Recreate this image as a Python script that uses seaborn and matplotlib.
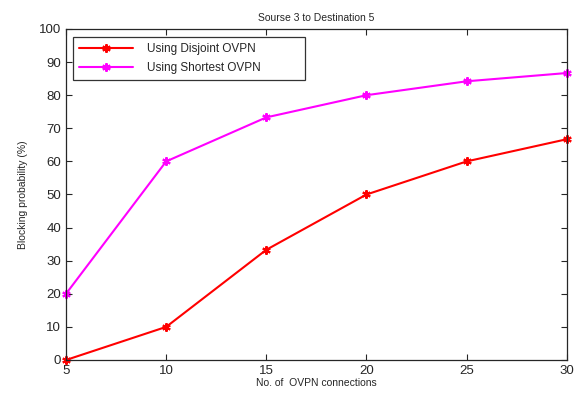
import seaborn as sns
import matplotlib.pyplot as plt
import pandas as pd

connections = [5, 10, 15, 20, 25, 30]
disjoint = [0, 10, 33.3, 50, 60, 66.7]
shortest = [20, 60, 73.3, 80, 84.2, 86.7]

df = pd.DataFrame({
    'x': connections * 2,
    'y': disjoint + shortest,
    'serie': ['Using Disjoint OVPN'] * 6 + ['Using Shortest OVPN'] * 6,
})

sns.set_style('ticks')
plt.rcParams['font.family'] = ['Liberation Sans', 'DejaVu Sans']

fig = plt.figure(figsize=(5.76, 3.94), dpi=100)
ax = fig.add_axes([0.1146, 0.0863, 0.8694, 0.8401])
sns.lineplot(data=df, x='x', y='y', hue='serie',
             palette={'Using Disjoint OVPN': '#ff0000', 'Using Shortest OVPN': '#ff00ff'},
             marker=(6, 2, 0), markersize=6, linewidth=1.5, ax=ax)

# marcadores com a mesma cor da linha
for ln in ax.lines:
    ln.set_markeredgecolor(ln.get_color())
    ln.set_markeredgewidth(1.5)
    ln.set_clip_on(False)

ax.set_xlim(5, 30)
ax.set_ylim(0, 100)
ax.set_xticks(connections)
ax.set_yticks(range(0, 101, 10))
ax.tick_params(direction='in', top=True, right=True, labelsize=9.5, length=4, width=0.8)
for s in ax.spines.values():
    s.set_linewidth(0.9)
ax.set_xlabel('No. of  OVPN connections', fontsize=7.5, labelpad=1)
ax.set_ylabel('Blocking probability (%)', fontsize=7.5, labelpad=8)
ax.set_title('Sourse 3 to Destination 5', fontsize=7.5, pad=6)

leg = ax.legend(loc='upper left', bbox_to_anchor=(0.014, 0.976, 0.463, 0), mode='expand',
                borderaxespad=0, fontsize=8.5, frameon=True, fancybox=False,
                edgecolor='black', handlelength=4.6, handletextpad=1.2,
                labelspacing=0.6, borderpad=0.5)
leg.get_frame().set_linewidth(0.9)
for h in leg.legend_handles:
    h.set_markeredgecolor(h.get_color())
    h.set_markeredgewidth(1.5)

fig.savefig('out.png', dpi=100)
